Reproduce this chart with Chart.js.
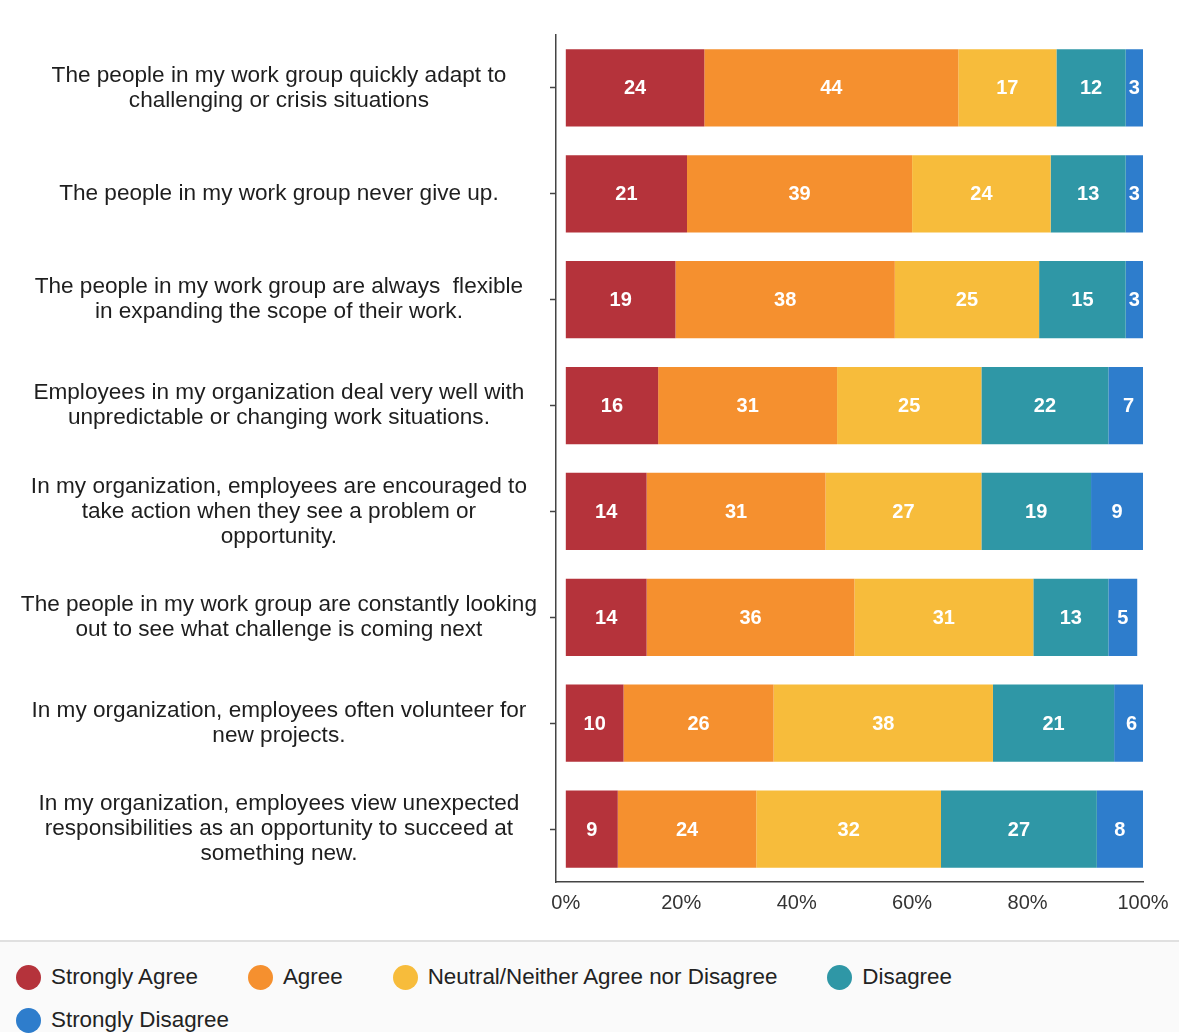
<!DOCTYPE html>
<html>
<head>
<meta charset="utf-8">
<title>Agility survey</title>
<script src="https://cdn.jsdelivr.net/npm/chart.js@4.4.1/dist/chart.umd.min.js"></script>
<style>
  body { margin: 0; background: #fff; font-family: "Liberation Sans", Arial, sans-serif; }
  #wrap { width: 1179px; height: 1034px; overflow: hidden; }
  #legend {
    border-top: 2px solid #e0e0e0;
    background: #fafafa;
    height: 92px;
    box-sizing: border-box;
    padding: 23px 0 0 16px;
    display: flex;
    flex-wrap: wrap;
    align-content: flex-start;
    column-gap: 50px;
    row-gap: 19px;
  }
  .item { display: flex; align-items: center; height: 24px; font-size: 22.4px; color: #222; white-space: nowrap; }
  .dot { width: 25px; height: 25px; border-radius: 50%; margin-right: 10px; }
</style>
</head>
<body>
<div id="wrap">
  <canvas id="chart" width="1179" height="940"></canvas>
  <div id="legend"></div>
</div>
<script>
// ── Data ──
const statements = [
  ["The people in my work group quickly adapt to", "challenging or crisis situations"],
  "The people in my work group never give up.",
  ["The people in my work group are always  flexible", "in expanding the scope of their work."],
  ["Employees in my organization deal very well with", "unpredictable or changing work situations."],
  ["In my organization, employees are encouraged to", "take action when they see a problem or", "opportunity."],
  ["The people in my work group are constantly looking", "out to see what challenge is coming next"],
  ["In my organization, employees often volunteer for", "new projects."],
  ["In my organization, employees view unexpected", "responsibilities as an opportunity to succeed at", "something new."]
];
const stronglyAgree    = [24, 21, 19, 16, 14, 14, 10, 9];
const agree            = [44, 39, 38, 31, 31, 36, 26, 24];
const neutral          = [17, 24, 25, 25, 27, 31, 38, 32];
const disagree         = [12, 13, 15, 22, 19, 13, 21, 27];
const stronglyDisagree = [3, 3, 3, 7, 9, 5, 6, 8];
const percentTicks = [0, 20, 40, 60, 80, 100];

const FONT = '"Liberation Sans", Arial, sans-serif';

const series = [
  { label: "Strongly Agree", data: stronglyAgree, color: "#b5333b" },
  { label: "Agree", data: agree, color: "#f5902f" },
  { label: "Neutral/Neither Agree nor Disagree", data: neutral, color: "#f7bc3b" },
  { label: "Disagree", data: disagree, color: "#2f97a6" },
  { label: "Strongly Disagree", data: stronglyDisagree, color: "#2e7dcc" }
];

// white numbers in the middle of each segment
const segmentLabels = {
  id: "segmentLabels",
  afterDatasetsDraw(chart) {
    const ctx = chart.ctx;
    ctx.save();
    ctx.font = "bold 20px " + FONT;
    ctx.fillStyle = "#ffffff";
    ctx.textAlign = "center";
    ctx.textBaseline = "middle";
    chart.data.datasets.forEach((ds, i) => {
      chart.getDatasetMeta(i).data.forEach((bar, j) => {
        const { x, y, base } = bar.getProps(["x", "y", "base"], true);
        ctx.fillText(ds.data[j], (x + base) / 2, y + 1);
      });
    });
    ctx.restore();
  }
};

const chart = new Chart(document.getElementById("chart"), {
  type: "bar",
  data: {
    labels: statements,
    datasets: series.map(s => ({
      label: s.label,
      data: s.data,
      backgroundColor: s.color,
      borderWidth: 0,
      barPercentage: 0.73,
      categoryPercentage: 1
    }))
  },
  options: {
    indexAxis: "y",
    responsive: false,
    animation: false,
    layout: { padding: { top: 35, right: 36, bottom: 16, left: 0 } },
    plugins: {
      legend: { display: false },
      tooltip: { enabled: false }
    },
    scales: {
      x: {
        stacked: true,
        min: -1.7,
        max: 100,
        afterBuildTicks: scale => { scale.ticks = percentTicks.map(v => ({ value: v })); },
        ticks: {
          callback: v => v + "%",
          color: "#333",
          padding: 9,
          font: { size: 20, family: FONT }
        },
        grid: { display: false, drawTicks: false },
        border: { display: true, color: "#444", width: 1.5 }
      },
      y: {
        stacked: true,
        afterFit: scale => {
          scale.width = 556;
          // labels sit inside their rows, no overhang above/below
          scale.paddingTop = 0;
          scale.paddingBottom = 0;
        },
        ticks: {
          crossAlign: "center",
          padding: 13,
          color: "#1e1e1e",
          font: { size: 22.6, family: FONT, lineHeight: 1.1 }
        },
        grid: { offset: false, drawOnChartArea: false, tickLength: 6, color: "#444", tickWidth: 1.5 },
        border: { display: true, color: "#444", width: 1.5 }
      }
    }
  },
  plugins: [segmentLabels]
});

// legend row under the chart
document.getElementById("legend").innerHTML = series.map(s => `
  <div class="item"><span class="dot" style="background:${s.color}"></span>${s.label}</div>`).join("");
</script>
</body>
</html>
